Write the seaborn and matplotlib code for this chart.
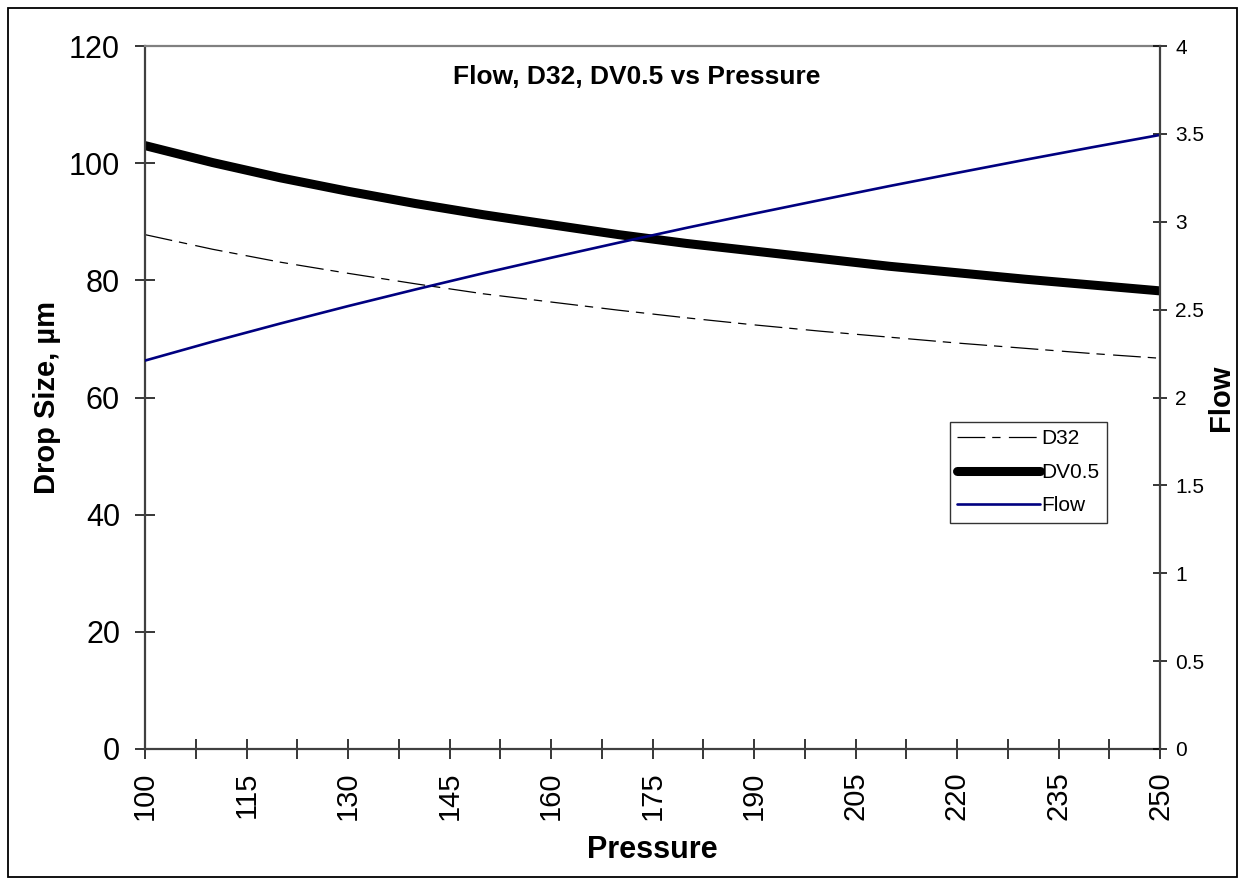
import numpy as np
import pandas as pd
import matplotlib
matplotlib.use("Agg")
import matplotlib.pyplot as plt
import matplotlib.patches as mpatches
from matplotlib.ticker import FixedLocator
import seaborn as sns

pressure = [100, 110, 120, 130, 140, 150, 160, 170, 180, 190, 200, 210, 220, 230, 240, 250]
d32 = [87.8, 85.3, 83.1, 81.2, 79.4, 77.7, 76.3, 74.9, 73.6, 72.4, 71.3, 70.3, 69.3, 68.4, 67.5, 66.7]
dv05 = [103.0, 100.1, 97.5, 95.2, 93.1, 91.2, 89.5, 87.8, 86.3, 85.0, 83.7, 82.4, 81.3, 80.2, 79.2, 78.2]
flow = [2.21, 2.318, 2.421, 2.520, 2.615, 2.707, 2.795, 2.881, 2.965, 3.046, 3.125, 3.203, 3.278, 3.352, 3.424, 3.494]

x_ticks = [100, 115, 130, 145, 160, 175, 190, 205, 220, 235, 250]
x_minor = [107.5, 122.5, 137.5, 152.5, 167.5, 182.5, 197.5, 212.5, 227.5, 242.5]
y_ticks = [0, 20, 40, 60, 80, 100, 120]
y2_ticks = [0, 0.5, 1, 1.5, 2, 2.5, 3, 3.5, 4]

sns.set_theme(style="white")
plt.rcParams['font.family'] = ['Liberation Sans', 'DejaVu Sans']
plt.rcParams['lines.scale_dashes'] = False
plt.rcParams['text.color'] = 'black'
plt.rcParams['axes.labelcolor'] = 'black'
plt.rcParams['xtick.color'] = 'black'
plt.rcParams['ytick.color'] = 'black'
plt.rcParams['legend.labelcolor'] = 'black'

df = pd.DataFrame({"Pressure": pressure, "D32": d32, "DV0.5": dv05, "Flow": flow})

fig = plt.figure(figsize=(12.45, 8.85), dpi=100)
fig.patch.set_facecolor("white")
ax = fig.add_axes([145/1245, 1 - 749/885, (1160-145)/1245, (749-46)/885])
ax2 = ax.twinx()

sns.lineplot(data=df, x="Pressure", y="D32", ax=ax, color="black", lw=0.9,
             label="D32", legend=False)
ax.lines[-1].set_dashes((20, 5, 6, 6))
sns.lineplot(data=df, x="Pressure", y="DV0.5", ax=ax, color="black", lw=6.5,
             label="DV0.5", legend=False)
sns.lineplot(data=df, x="Pressure", y="Flow", ax=ax2, color="#000080", lw=1.9,
             label="Flow", legend=False)

ax.set_xlim(100, 250)
ax.set_ylim(0, 120)
ax2.set_ylim(0, 4)
ax.xaxis.set_major_locator(FixedLocator(x_ticks))
ax.xaxis.set_minor_locator(FixedLocator(x_minor))
ax.set_xticklabels([str(v) for v in x_ticks], rotation=90)
ax.yaxis.set_major_locator(FixedLocator(y_ticks))
ax.set_yticklabels([str(v) for v in y_ticks])
ax2.yaxis.set_major_locator(FixedLocator(y2_ticks))
ax2.set_yticklabels([f"{v:g}" for v in y2_ticks])

spine_col = "#404040"
for a in (ax, ax2):
    for s in a.spines.values():
        s.set_visible(False)
ax.spines["left"].set_visible(True)
ax.spines["left"].set_color(spine_col)
ax.spines["left"].set_linewidth(1.6)
ax.spines["bottom"].set_visible(True)
ax.spines["bottom"].set_color(spine_col)
ax.spines["bottom"].set_linewidth(1.6)
ax.spines["top"].set_visible(True)
ax.spines["top"].set_color("#808080")
ax.spines["top"].set_linewidth(1.6)
ax2.spines["right"].set_visible(True)
ax2.spines["right"].set_color(spine_col)
ax2.spines["right"].set_linewidth(1.6)

ax.tick_params(axis="x", which="both", direction="inout", length=14, width=1.1,
               color="black", labelsize=21, pad=9, bottom=True, top=False)
ax.tick_params(axis="y", which="major", direction="inout", length=14, width=1.1,
               color="black", labelsize=22, pad=11, left=True)
ax2.tick_params(axis="y", which="major", direction="inout", length=10, width=1.1,
                color="black", labelsize=15, pad=6, right=True)

ax.set_xlabel("Pressure", fontsize=22, fontweight="bold")
ax.set_ylabel("Drop Size, µm", fontsize=21, fontweight="bold")
ax2.set_ylabel("Flow", fontsize=21, fontweight="bold")
ax.xaxis.set_label_coords(0.5, -0.122)
ax.yaxis.set_label_coords(-0.083, 0.5)
ax2.yaxis.set_label_coords(1.046, 0.5)

ax.text(0.484, 0.956, "Flow, D32, DV0.5 vs Pressure", transform=ax.transAxes,
        ha="center", va="center", fontsize=19, fontweight="bold")

h1, l1 = ax.get_legend_handles_labels()
h2, l2 = ax2.get_legend_handles_labels()
leg = ax2.legend(h1 + h2, l1 + l2, loc="upper left",
                 bbox_to_anchor=((950-145)/1015, (749-422)/703),
                 fontsize=15, frameon=True, fancybox=False, handlelength=3.95,
                 handletextpad=0.1, labelspacing=0.7, borderpad=0.35,
                 borderaxespad=0.0)
leg.get_frame().set_edgecolor("black")
leg.get_frame().set_linewidth(1.0)
for t in leg.get_texts():
    t.set_color("black")

border = mpatches.Rectangle((8/1245, 1 - 877/885), (1237-8)/1245, (877-8)/885,
                            transform=fig.transFigure, fill=False,
                            edgecolor="black", linewidth=1.3)
fig.patches.append(border)

fig.savefig("out.png", dpi=100)
